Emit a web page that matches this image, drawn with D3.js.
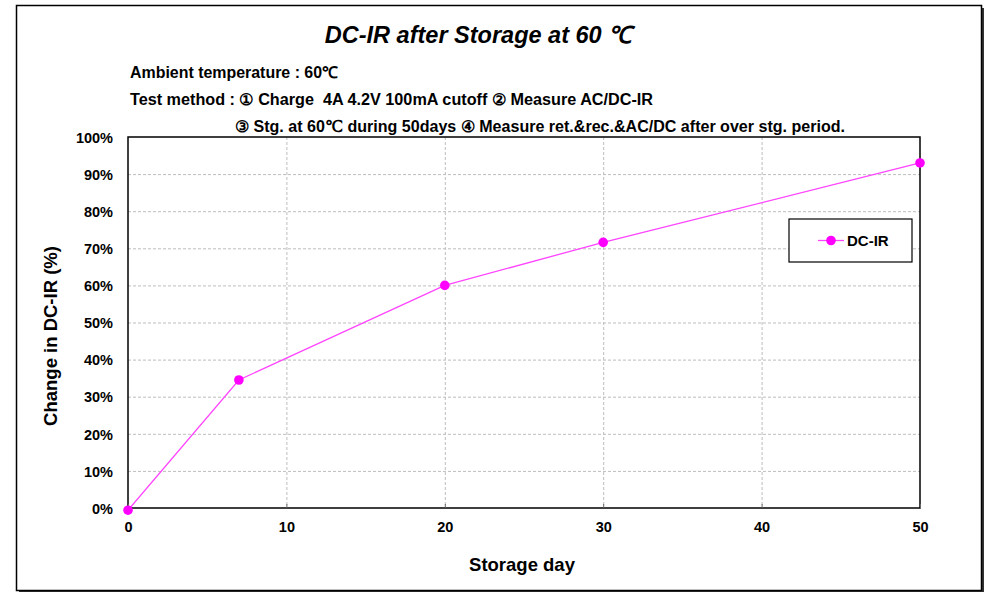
<!DOCTYPE html>
<html>
<head>
<meta charset="utf-8">
<script src="https://cdn.jsdelivr.net/npm/d3@7"></script>
<style>
  body { margin: 0; background: #fff; }
  svg { display: block; font-family: Arial, "Liberation Sans", sans-serif; }
  .note { white-space: pre; }
</style>
</head>
<body>
<svg id="chart" width="986" height="592"></svg>
<script>
// DC-IR change after storage at 60 degC

const days = [0, 7, 20, 30, 50];
const dcir = [-0.6, 34.5, 60, 71.6, 93];
const xTicks = [0, 10, 20, 30, 40, 50];
const yTicks = [0, 10, 20, 30, 40, 50, 60, 70, 80, 90, 100];
const notes = [
  "Ambient temperature : 60℃",
  "Test method : ① Charge  4A 4.2V 100mA cutoff ② Measure AC/DC-IR",
  "③ Stg. at 60℃ during 50days ④ Measure ret.&rec.&AC/DC after over stg. period."
];

const svg = d3.select("#chart");
const margin = { top: 137, right: 66, bottom: 84, left: 128 };
const width = 986;
const height = 592;
const innerWidth = width - margin.left - margin.right;
const innerHeight = height - margin.top - margin.bottom;

// outer frame with little shadow
svg.append("rect").attr("x", 19).attr("y", 8).attr("width", 965).attr("height", 584).attr("fill", "#333");
svg.append("rect").attr("x", 16.5).attr("y", 5.5).attr("width", 965).attr("height", 585)
  .attr("fill", "#fff").attr("stroke", "#000").attr("stroke-width", 1.5);

const x = d3.scaleLinear().domain([0, 50]).range([0, innerWidth]);
const y = d3.scaleLinear().domain([0, 100]).range([innerHeight, 0]);

const g = svg.append("g").attr("transform", `translate(${margin.left},${margin.top})`);

// grid
g.append("g")
  .selectAll("line")
  .data(yTicks.slice(1, -1))
  .join("line")
  .attr("x1", 0).attr("x2", innerWidth)
  .attr("y1", (d) => y(d) + 0.5).attr("y2", (d) => y(d) + 0.5)
  .attr("stroke", "#bdbdbd").attr("stroke-dasharray", "3,2");

g.append("g")
  .selectAll("line")
  .data(xTicks.slice(1, -1))
  .join("line")
  .attr("x1", (d) => x(d) + 0.5).attr("x2", (d) => x(d) + 0.5)
  .attr("y1", 0).attr("y2", innerHeight)
  .attr("stroke", "#bdbdbd").attr("stroke-dasharray", "3,2");

// plot frame
g.append("rect").attr("x", 0).attr("y", 0).attr("width", innerWidth).attr("height", innerHeight)
  .attr("fill", "none").attr("stroke", "#000").attr("stroke-width", 1.5);

// axes
const xAxis = d3.axisBottom(x).tickValues(xTicks).tickSize(4).tickSizeOuter(0).tickPadding(10);
const yAxis = d3.axisLeft(y).tickValues(yTicks).tickSize(0).tickPadding(15).tickFormat((d) => d + "%");

const xAxisG = g.append("g").attr("transform", `translate(0,${innerHeight})`).call(xAxis);
const yAxisG = g.append("g").call(yAxis);

xAxisG.select(".domain").remove();
yAxisG.select(".domain").remove();
xAxisG.selectAll("line").attr("stroke", "#666").attr("transform", "translate(0,-4)");
xAxisG.selectAll("text").attr("font-size", 14.5).attr("font-weight", "bold").attr("fill", "#000");
yAxisG.selectAll("text").attr("font-size", 14.5).attr("font-weight", "bold").attr("fill", "#000").attr("dy", "0.36em");

// series
const line = d3.line().x((d, i) => x(days[i])).y((d) => y(d));

g.append("path")
  .datum(dcir)
  .attr("fill", "none")
  .attr("stroke", "#ff44ff")
  .attr("stroke-width", 1.3)
  .attr("d", line);

g.selectAll(".pt")
  .data(dcir)
  .join("circle")
  .attr("class", "pt")
  .attr("cx", (d, i) => x(days[i]))
  .attr("cy", (d) => y(d))
  .attr("r", 4.8)
  .attr("fill", "#ff00ff");

// legend
const lg = svg.append("g").attr("transform", "translate(789,219)");
lg.append("rect").attr("width", 123).attr("height", 43).attr("fill", "#fff").attr("stroke", "#000").attr("stroke-width", 1.2);
lg.append("line").attr("x1", 29).attr("x2", 55).attr("y1", 21.5).attr("y2", 21.5).attr("stroke", "#ff44ff").attr("stroke-width", 1.3);
lg.append("circle").attr("cx", 42).attr("cy", 21.5).attr("r", 4.8).attr("fill", "#ff00ff");
lg.append("text").attr("x", 58).attr("y", 27).attr("font-size", 15).attr("font-weight", "bold").text("DC-IR");

// titles
svg.append("text")
  .attr("x", 478).attr("y", 43)
  .attr("text-anchor", "middle")
  .attr("font-size", 23.5).attr("font-weight", "bold").attr("font-style", "italic")
  .text("DC-IR after Storage at 60 ℃");

const noteX = [130, 130, 235];
const noteY = [78, 105, 132];
const noteW = [208, 523, 610];
svg.append("g")
  .selectAll("text")
  .data(notes)
  .join("text")
  .attr("class", "note")
  .attr("x", (d, i) => noteX[i])
  .attr("y", (d, i) => noteY[i])
  .attr("textLength", (d, i) => noteW[i])
  .attr("lengthAdjust", "spacingAndGlyphs")
  .attr("font-size", 16).attr("font-weight", "bold")
  .text((d) => d);

svg.append("text")
  .attr("transform", "translate(57,336) rotate(-90)")
  .attr("text-anchor", "middle")
  .attr("font-size", 18.5).attr("font-weight", "bold")
  .text("Change in DC-IR (%)");

svg.append("text")
  .attr("x", 522).attr("y", 571)
  .attr("text-anchor", "middle")
  .attr("font-size", 18.5).attr("font-weight", "bold")
  .text("Storage day");
</script>
</body>
</html>
